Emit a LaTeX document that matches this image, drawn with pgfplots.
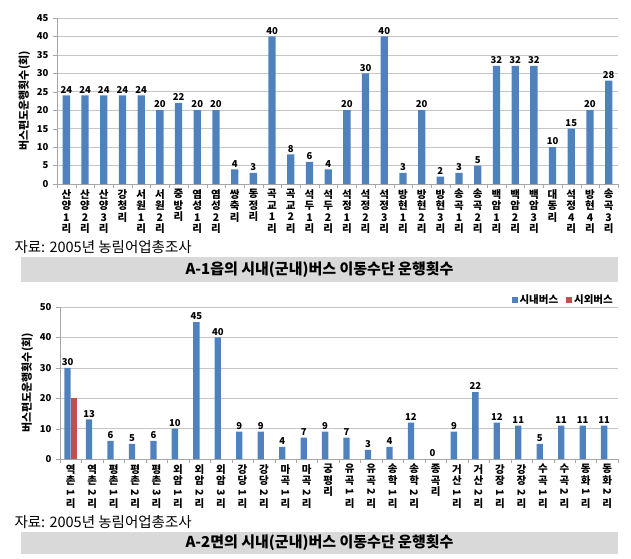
\documentclass[border=0pt]{standalone}
\usepackage{fontspec}
\setmainfont{Noto Sans CJK KR}
\usepackage{graphicx}
\usepackage{pgfplots}
\pgfplotsset{compat=1.18}
\definecolor{barblue}{RGB}{79,129,189}
\definecolor{barred}{RGB}{192,80,77}
\definecolor{boxgray}{RGB}{217,217,217}
\newcommand{\rt}[1]{\rotatebox[origin=c]{-90}{#1}}
\pgfplotsset{
  busaxis/.style={
    scale only axis,
    ybar,
    ymin=0,
    axis x line*=bottom, axis y line*=left,
    axis line style={gray!70},
    tick align=outside,
    major tick length=4pt,
    tick style={gray!70},
    x tick label as interval,
    ymajorgrids, grid style={gray!45, line width=0.6pt},
    /pgf/number format/assume math mode=true,
    yticklabel style={font=\bfseries\fontsize{9.5}{10}\selectfont, xshift=-1pt},
    xticklabel style={align=center, anchor=north, font=\bfseries\fontsize{10.5}{11.6}\selectfont, inner sep=1pt},
    ylabel={버스편도운행횟수(회)},
    ylabel style={font=\bfseries\fontsize{11}{11}\selectfont},
    clip=false,
  }
}
\begin{document}
\begin{tikzpicture}[x=1pt,y=1pt]
\useasboundingbox (0,0) rectangle (631,-558);
\begin{axis}[busaxis,
  at={(57pt,-184pt)}, anchor=south west,
  width=561pt, height=166pt,
  bar width=7.3pt,
  ymax=45, ytick={0,5,...,45},
  xmin=-0.5, xmax=29.5,
  xtick={-0.5,0.5,...,29.5},
  xticklabels={{산\\양\\1\\리},{산\\양\\2\\리},{산\\양\\3\\리},{강\\청\\리},{서\\원\\1\\리},{서\\원\\2\\리},{중\\방\\리},{염\\성\\1\\리},{염\\성\\2\\리},{쌍\\축\\리},{동\\정\\리},{곡\\교\\1\\리},{곡\\교\\2\\리},{석\\두\\1\\리},{석\\두\\2\\리},{석\\정\\1\\리},{석\\정\\2\\리},{석\\정\\3\\리},{방\\현\\1\\리},{방\\현\\2\\리},{방\\현\\3\\리},{송\\곡\\1\\리},{송\\곡\\2\\리},{백\\암\\1\\리},{백\\암\\2\\리},{백\\암\\3\\리},{대\\동\\리},{석\\정\\4\\리},{방\\현\\4\\리},{송\\곡\\3\\리}},
]
\addplot[fill=barblue, draw=none,
  nodes near coords,
  every node near coord/.append style={font=\bfseries\fontsize{9.5}{10}\selectfont, black, inner sep=2pt}]
  coordinates {(0,24) (1,24) (2,24) (3,24) (4,24) (5,20) (6,22) (7,20) (8,20) (9,4)
  (10,3) (11,40) (12,8) (13,6) (14,4) (15,20) (16,30) (17,40) (18,3) (19,20)
  (20,2) (21,3) (22,5) (23,32) (24,32) (25,32) (26,10) (27,15) (28,20) (29,28)};
\end{axis}
\node[anchor=west, font=\fontsize{14.5}{15}\selectfont] at (11,-247) {자료: 2005년 농림어업총조사};
\fill[boxgray] (21,-257) rectangle (618,-282);
\node[font=\bfseries\fontsize{15}{16}\selectfont] at (319.5,-269.5) {A-1읍의 시내(군내)버스 이동수단 운행횟수};

\begin{axis}[busaxis,
  at={(60pt,-459pt)}, anchor=south west,
  width=558pt, height=152pt,
  bar width=6.3pt, ybar=0pt,
  ymax=50, ytick={0,10,...,50},
  xmin=-0.5, xmax=25.5,
  xtick={-0.5,0.5,...,25.5},
  xticklabels={{역\\촌\\\rt{1}\\리},{역\\촌\\\rt{2}\\리},{평\\촌\\\rt{1}\\리},{평\\촌\\\rt{2}\\리},{평\\촌\\\rt{3}\\리},{외\\암\\\rt{1}\\리},{외\\암\\\rt{2}\\리},{외\\암\\\rt{3}\\리},{강\\당\\\rt{1}\\리},{강\\당\\\rt{2}\\리},{마\\곡\\\rt{1}\\리},{마\\곡\\\rt{2}\\리},{궁\\평\\리},{유\\곡\\\rt{1}\\리},{유\\곡\\\rt{2}\\리},{송\\학\\\rt{1}\\리},{송\\학\\\rt{2}\\리},{종\\곡\\리},{거\\산\\\rt{1}\\리},{거\\산\\\rt{2}\\리},{강\\장\\\rt{1}\\리},{강\\장\\\rt{2}\\리},{수\\곡\\\rt{1}\\리},{수\\곡\\\rt{2}\\리},{동\\화\\\rt{1}\\리},{동\\화\\\rt{2}\\리}},
  legend columns=2,
  legend style={at={(1,1.11)}, anchor=north east, draw=none, fill=none,
    font=\bfseries\fontsize{10.5}{11}\selectfont,
    /tikz/every even column/.append style={column sep=6pt}},
  legend image code/.code={\fill[#1] (0pt,-3pt) rectangle (6pt,3pt);},
]
\addplot[fill=barblue, draw=none,
  nodes near coords,
  every node near coord/.append style={font=\bfseries\fontsize{9.5}{10}\selectfont, black, inner sep=2pt}]
  coordinates {(0,30) (1,13) (2,6) (3,5) (4,6) (5,10) (6,45) (7,40) (8,9) (9,9)
  (10,4) (11,7) (12,9) (13,7) (14,3) (15,4) (16,12) (17,0) (18,9) (19,22)
  (20,12) (21,11) (22,5) (23,11) (24,11) (25,11)};
\addplot[fill=barred, draw=none] coordinates {(0,20)};
\legend{시내버스,시외버스}
\end{axis}
\node[anchor=west, font=\fontsize{14.5}{15}\selectfont] at (11,-522) {자료: 2005년 농림어업총조사};
\fill[boxgray] (21,-532) rectangle (618,-554);
\node[font=\bfseries\fontsize{15}{16}\selectfont] at (319.5,-543) {A-2면의 시내(군내)버스 이동수단 운행횟수};
\end{tikzpicture}
\end{document}
